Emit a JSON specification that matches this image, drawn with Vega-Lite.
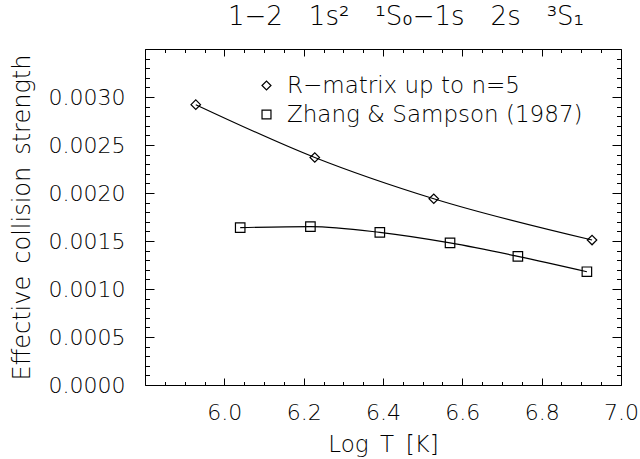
{
  "$schema": "https://vega.github.io/schema/vega-lite/v6.json",
  "width": 476,
  "height": 336,
  "autosize": "none",
  "padding": {"left": 145, "top": 49, "right": 19, "bottom": 74},
  "background": "white",
  "config": {
    "view": {"stroke": "black", "strokeWidth": 1},
    "font": "DejaVu Sans",
    "axis": {"domain": false, "ticks": false, "labelColor": "black", "titleColor": "black", "labelFont": "DejaVu Sans", "titleFont": "DejaVu Sans", "labelFontWeight": 200, "titleFontWeight": 200, "labelFontSize": 22, "titleFontSize": 23, "grid": true, "gridColor": "black", "gridOpacity": 1, "gridWidth": 1}
  },
  "title": {"text": "1−2\u2002\u20021s²\u2002\u2002¹S₀−1s\u2002\u20022s\u2002\u2002³S₁", "font": "DejaVu Sans", "fontSize": 26, "fontWeight": 200, "color": "black", "offset": 8, "dx": 23},
  "data": {"values": [
    {"series": "R−matrix up to n=5", "logT": 5.928, "y": 0.00292},
    {"series": "R−matrix up to n=5", "logT": 6.228, "y": 0.00237},
    {"series": "R−matrix up to n=5", "logT": 6.528, "y": 0.00194},
    {"series": "R−matrix up to n=5", "logT": 6.927, "y": 0.00151},
    {"series": "Zhang & Sampson (1987)", "logT": 6.04, "y": 0.00164},
    {"series": "Zhang & Sampson (1987)", "logT": 6.217, "y": 0.00165},
    {"series": "Zhang & Sampson (1987)", "logT": 6.392, "y": 0.00159},
    {"series": "Zhang & Sampson (1987)", "logT": 6.569, "y": 0.00148},
    {"series": "Zhang & Sampson (1987)", "logT": 6.74, "y": 0.00134},
    {"series": "Zhang & Sampson (1987)", "logT": 6.914, "y": 0.00118}
  ]},
  "encoding": {
    "x": {"field": "logT", "type": "quantitative", "scale": {"domain": [5.8, 7.0], "nice": false, "zero": false},
      "axis": {"orient": "bottom", "title": "Log\u2002T\u2002[K]", "values": [5.8,5.85,5.9,5.95,6.0,6.05,6.1,6.15,6.2,6.25,6.3,6.35,6.4,6.45,6.5,6.55,6.6,6.65,6.7,6.75,6.8,6.85,6.9,6.95,7.0],
        "labelExpr": "abs(datum.value*5 - round(datum.value*5)) < 0.001 && datum.value > 5.9 ? format(datum.value, '.1f') : ''",
        "gridDash": {"condition": {"test": "abs(datum.value*5 - round(datum.value*5)) < 0.001", "value": [7, 322, 7, 1000]}, "value": [3.5, 329, 3.5, 1000]},
        "labelPadding": 17, "titlePadding": 10, "labelFlush": false, "labelOverlap": false}},
    "y": {"field": "y", "type": "quantitative", "scale": {"domain": [0, 0.0035], "nice": false},
      "axis": {"orient": "left", "title": "Effective\u2002collision\u2002strength", "titleFontSize": 24, "values": [0,0.0001,0.0002,0.0003,0.0004,0.0005,0.0006,0.0007,0.0008,0.0009,0.001,0.0011,0.0012,0.0013,0.0014,0.0015,0.0016,0.0017,0.0018,0.0019,0.002,0.0021,0.0022,0.0023,0.0024,0.0025,0.0026,0.0027,0.0028,0.0029,0.003,0.0031,0.0032,0.0033,0.0034,0.0035],
        "labelExpr": "abs(datum.value*2000 - round(datum.value*2000)) < 0.001 && datum.value < 0.00325 ? format(datum.value, '.4f') : ''",
        "gridDash": {"condition": {"test": "abs(datum.value*2000 - round(datum.value*2000)) < 0.001", "value": [9, 458, 9, 1000]}, "value": [4.5, 467, 4.5, 1000]},
        "labelPadding": 20, "titlePadding": 14, "labelFlush": false, "labelOverlap": false}}
  },
  "layer": [
    {
      "mark": {"type": "line", "color": "black", "strokeWidth": 1.2, "interpolate": "monotone"},
      "encoding": {"detail": {"field": "series", "type": "nominal"}}
    },
    {
      "mark": {"type": "point", "filled": false, "color": "black", "strokeWidth": 1.2, "opacity": 1},
      "encoding": {
        "shape": {"field": "series", "type": "nominal",
          "scale": {"domain": ["R−matrix up to n=5", "Zhang & Sampson (1987)"], "range": ["diamond", "square"]},
          "legend": {"orient": "none", "legendX": 110, "legendY": 25, "title": null, "labelFont": "DejaVu Sans", "labelFontWeight": 200, "labelFontSize": 23, "labelColor": "black", "labelLimit": 0, "symbolStrokeColor": "black", "symbolFillColor": "transparent", "symbolStrokeWidth": 1.2, "symbolSize": 80, "labelOffset": 9, "rowPadding": 5}},
        "size": {"value": 90}
      }
    }
  ]
}
